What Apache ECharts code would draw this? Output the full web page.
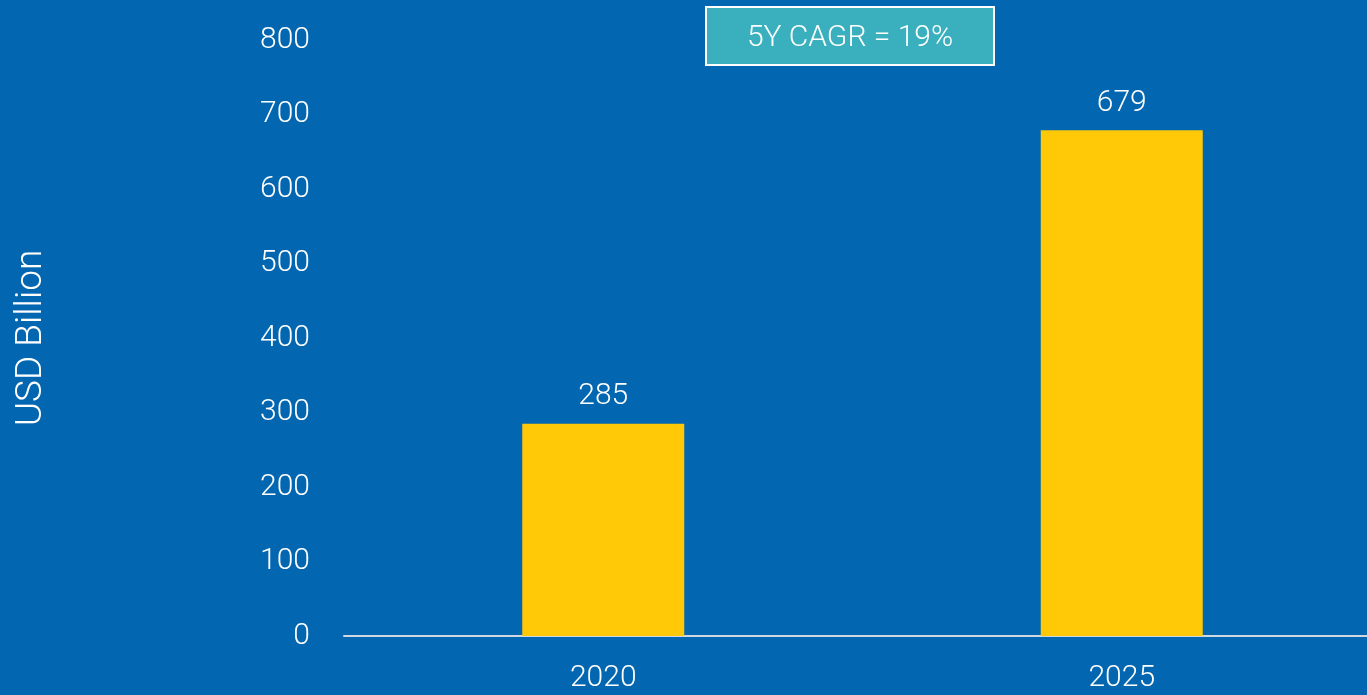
<!DOCTYPE html>
<html>
<head>
<meta charset="utf-8">
<script src="https://cdn.jsdelivr.net/npm/echarts@6/dist/echarts.min.js"></script>
<style>
html,body{margin:0;padding:0;background:#0366B0;overflow:hidden;}
#chart{width:1367px;height:695px;}
</style>
</head>
<body>
<div id="chart"></div>
<script>
const categories = ['2020', '2025'];
const values = [285, 679];
const yTicks = [0, 100, 200, 300, 400, 500, 600, 700, 800];
const axisName = 'USD Billion';
const annotation = '5Y CAGR = 19%';

const FONT = 'Roboto, "Noto Sans", sans-serif';
const chart = echarts.init(document.getElementById('chart'));
chart.setOption({
  backgroundColor: '#0366B0',
  animation: false,
  grid: { left: 344, right: -14, top: 40, bottom: 59, containLabel: false, outerBoundsMode: 'none' },
  xAxis: {
    type: 'category',
    data: categories,
    axisLine: { show: true, lineStyle: { color: '#D0D7E0', width: 2 } },
    axisTick: { show: false },
    axisLabel: { color: '#FFFFFF', fontSize: 30, fontWeight: 300, fontFamily: FONT, margin: 27 }
  },
  yAxis: {
    type: 'value',
    min: yTicks[0],
    max: yTicks[yTicks.length - 1],
    interval: 100,
    name: axisName,
    nameLocation: 'middle',
    nameGap: 294,
    nameRotate: 90,
    nameTextStyle: { color: '#FFFFFF', fontSize: 37, fontWeight: 300, fontFamily: FONT },
    axisLine: { show: false },
    axisTick: { show: false },
    splitLine: { show: false },
    axisLabel: { color: '#FFFFFF', fontSize: 30, fontWeight: 300, fontFamily: FONT, margin: 34 }
  },
  series: [{
    type: 'bar',
    data: values,
    barWidth: 162,
    itemStyle: { color: '#FFC907' },
    label: {
      show: true,
      position: 'top',
      distance: 12,
      color: '#FFFFFF',
      fontSize: 30,
      fontWeight: 300,
      fontFamily: FONT
    }
  }],
  graphic: [{
    type: 'group',
    left: 705,
    top: 6,
    children: [{
      type: 'rect',
      shape: { x: 0, y: 0, width: 288, height: 58 },
      style: { fill: '#3AB0BF', stroke: '#FFFFFF', lineWidth: 2 }
    }, {
      type: 'text',
      x: 144,
      y: 31,
      style: {
        text: annotation,
        fill: '#FFFFFF',
        font: '300 30px ' + FONT,
        align: 'center',
        verticalAlign: 'middle'
      }
    }]
  }]
});
</script>
</body>
</html>
